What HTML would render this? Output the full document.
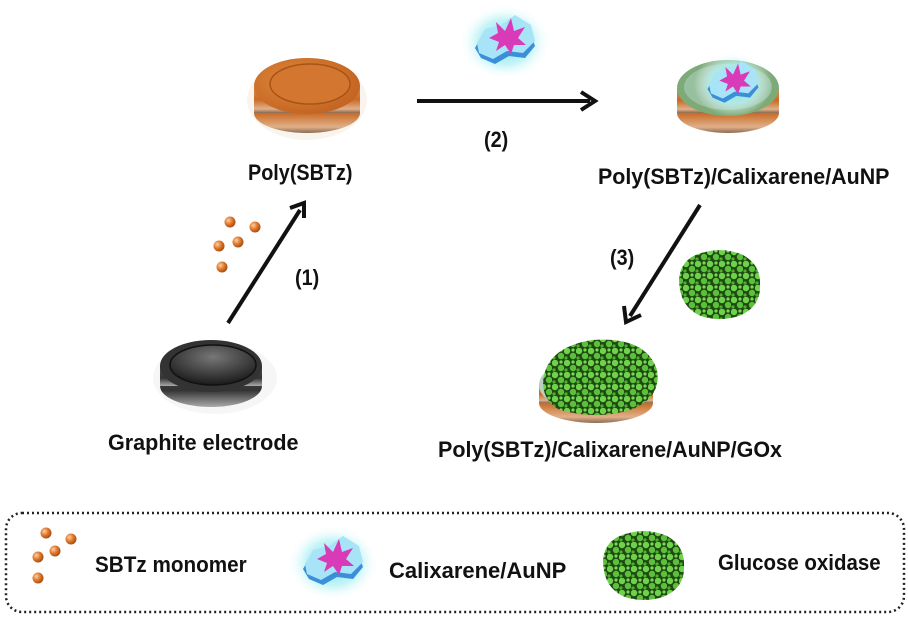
<!DOCTYPE html>
<html><head><meta charset="utf-8"><style>
html,body{margin:0;padding:0;background:#fff;}
body{width:908px;height:619px;position:relative;overflow:hidden;font-family:"Liberation Sans",sans-serif;}
.t{position:absolute;font-weight:bold;font-size:22px;line-height:26px;color:#111;white-space:nowrap;transform-origin:0 50%;}
</style></head><body>
<svg width="908" height="619" style="position:absolute;left:0;top:0">
<defs>
<linearGradient id="org" x1="0" y1="0" x2="0" y2="1"><stop offset="0" stop-color="#e8904a"/><stop offset="0.5" stop-color="#c96a25"/><stop offset="0.85" stop-color="#e0b08a"/><stop offset="1" stop-color="#8a6a50"/></linearGradient>
<radialGradient id="orgtop" cx="0.4" cy="0.4" r="0.7"><stop offset="0" stop-color="#e08a3a"/><stop offset="1" stop-color="#c06020"/></radialGradient>
<linearGradient id="gry" x1="0" y1="0" x2="0" y2="1"><stop offset="0" stop-color="#555"/><stop offset="0.6" stop-color="#333"/><stop offset="1" stop-color="#aaa"/></linearGradient>
<radialGradient id="grytop" cx="0.5" cy="0.3" r="0.7"><stop offset="0" stop-color="#777"/><stop offset="1" stop-color="#1a1a1a"/></radialGradient>
<radialGradient id="glow"><stop offset="0" stop-color="#6fe0ea"/><stop offset="0.6" stop-color="#b8f2f5" stop-opacity="0.8"/><stop offset="1" stop-color="#fff" stop-opacity="0"/></radialGradient>
<radialGradient id="ball" cx="0.35" cy="0.35" r="0.7"><stop offset="0" stop-color="#ffd0a0"/><stop offset="0.5" stop-color="#e07a30"/><stop offset="1" stop-color="#a04a10"/></radialGradient>
<pattern id="gox" width="12" height="12" patternUnits="userSpaceOnUse">
<rect width="12" height="12" fill="#1e4a12"/>
<circle cx="3" cy="3" r="3.2" fill="#6ed24a"/><circle cx="9" cy="8" r="3.2" fill="#5cc03c"/>
<circle cx="9" cy="2" r="1.6" fill="#7ad858"/><circle cx="2" cy="10" r="1.6" fill="#4fae30"/>
</pattern>
<g id="calix">
<ellipse cx="0" cy="0" rx="46" ry="38" fill="url(#glow)"/>
<path d="M-30,6 L-22,-8 L-6,-12 L8,-22 L24,-12 L30,4 L20,16 L4,14 L-10,22 L-24,16 Z" fill="#3a8fd8"/>
<path d="M-28,1 L-20,-13 L-4,-17 L10,-27 L26,-17 L30,-1 L18,11 L2,9 L-12,17 L-26,11 Z" fill="#a8e4f8"/>
<path d="M-16,-4 L-7,-9 L-9,-20 L0,-11 L6,-24 L9,-11 L20,-15 L13,-4 L21,3 L9,3 L6,12 L0,3 L-9,9 L-6,0 Z" fill="#d83ab8"/>
</g>
<g id="goxb">
<path d="M-40,-6 Q-38,-28 -14,-33 Q6,-38 24,-30 Q42,-20 41,0 Q42,22 20,31 Q0,37 -18,31 Q-40,22 -40,-6Z" fill="url(#gox)"/>
</g>
</defs>

<ellipse cx="307" cy="100" rx="60" ry="40" fill="#f6ece4" opacity="0.6"/>
<ellipse cx="307" cy="113" rx="53" ry="20" fill="url(#org)"/>
<rect x="254" y="86" width="106" height="27" fill="url(#org)"/>
<ellipse cx="307" cy="86" rx="53" ry="28" fill="url(#orgtop)"/>
<ellipse cx="310" cy="84" rx="40" ry="20" fill="#d27630" stroke="#a85418" stroke-width="1.5"/>

<use href="#calix" x="505" y="42"/>

<line x1="417" y1="101" x2="590" y2="101" stroke="#111" stroke-width="4"/>
<path d="M581,92 L595,101 L581,110" fill="none" stroke="#111" stroke-width="4"/>

<ellipse cx="728" cy="113" rx="51" ry="20" fill="url(#org)"/>
<rect x="677" y="88" width="102" height="25" fill="url(#org)"/>
<ellipse cx="728" cy="88" rx="51" ry="28" fill="#7eaa78"/>
<ellipse cx="728" cy="87" rx="44" ry="23" fill="#98c0a0"/>
<g transform="translate(733,84) scale(0.85)"><use href="#calix"/></g>

<line x1="228" y1="323" x2="300" y2="210" stroke="#111" stroke-width="4"/>
<path d="M290,208 L304,203 L304,218" fill="none" stroke="#111" stroke-width="4"/>
<circle cx="230" cy="222" r="5.5" fill="url(#ball)"/><circle cx="255" cy="227" r="5.5" fill="url(#ball)"/>
<circle cx="219" cy="246" r="5.5" fill="url(#ball)"/><circle cx="238" cy="242" r="5.5" fill="url(#ball)"/>
<circle cx="222" cy="267" r="5.5" fill="url(#ball)"/>

<ellipse cx="215" cy="378" rx="62" ry="36" fill="#f0f0f0" opacity="0.6"/>
<ellipse cx="211" cy="386" rx="51" ry="21" fill="url(#gry)"/>
<rect x="160" y="366" width="102" height="20" fill="url(#gry)"/>
<ellipse cx="211" cy="366" rx="51" ry="26" fill="#333"/>
<ellipse cx="213" cy="365" rx="43" ry="20" fill="url(#grytop)" stroke="#111" stroke-width="1.5"/>

<line x1="700" y1="205" x2="630" y2="316" stroke="#111" stroke-width="4"/>
<path d="M624,306 L626,322 L641,315" fill="none" stroke="#111" stroke-width="4"/>
<use href="#goxb" x="719" y="285"/>

<ellipse cx="596" cy="403" rx="57" ry="20" fill="url(#org)"/>
<rect x="539" y="385" width="114" height="18" fill="url(#org)"/>
<ellipse cx="596" cy="385" rx="57" ry="28" fill="#b8d0c0"/>
<path d="M543,384 Q544,348 592,340 Q646,336 657,370 Q662,398 630,410 Q596,420 560,410 Q544,402 543,384Z" fill="url(#gox)"/>

<rect x="6" y="513" width="898" height="99" rx="16" ry="16" fill="none" stroke="#222" stroke-width="2.5" stroke-dasharray="2,3"/>
<circle cx="46" cy="533" r="5.5" fill="url(#ball)"/><circle cx="71" cy="539" r="5.5" fill="url(#ball)"/>
<circle cx="38" cy="557" r="5.5" fill="url(#ball)"/><circle cx="55" cy="551" r="5.5" fill="url(#ball)"/>
<circle cx="38" cy="578" r="5.5" fill="url(#ball)"/>
<use href="#calix" x="333" y="563"/>
<use href="#goxb" x="643" y="566"/>
</svg>

<div class="t" style="left:248px;top:160px;transform:scaleX(0.9)">Poly(SBTz)</div>
<div class="t" style="left:484px;top:127px;transform:scaleX(0.9)">(2)</div>
<div class="t" style="left:598px;top:164px;transform:scaleX(0.973)">Poly(SBTz)/Calixarene/AuNP</div>
<div class="t" style="left:295px;top:265px;transform:scaleX(0.9)">(1)</div>
<div class="t" style="left:610px;top:245px;transform:scaleX(0.9)">(3)</div>
<div class="t" style="left:108px;top:430px;transform:scaleX(0.98)">Graphite electrode</div>
<div class="t" style="left:438px;top:437px;transform:scaleX(0.977)">Poly(SBTz)/Calixarene/AuNP/GOx</div>
<div class="t" style="left:95px;top:552px;transform:scaleX(0.94)">SBTz monomer</div>
<div class="t" style="left:389px;top:558px;transform:scaleX(1.0)">Calixarene/AuNP</div>
<div class="t" style="left:718px;top:550px;transform:scaleX(0.93)">Glucose oxidase</div>
</body></html>
